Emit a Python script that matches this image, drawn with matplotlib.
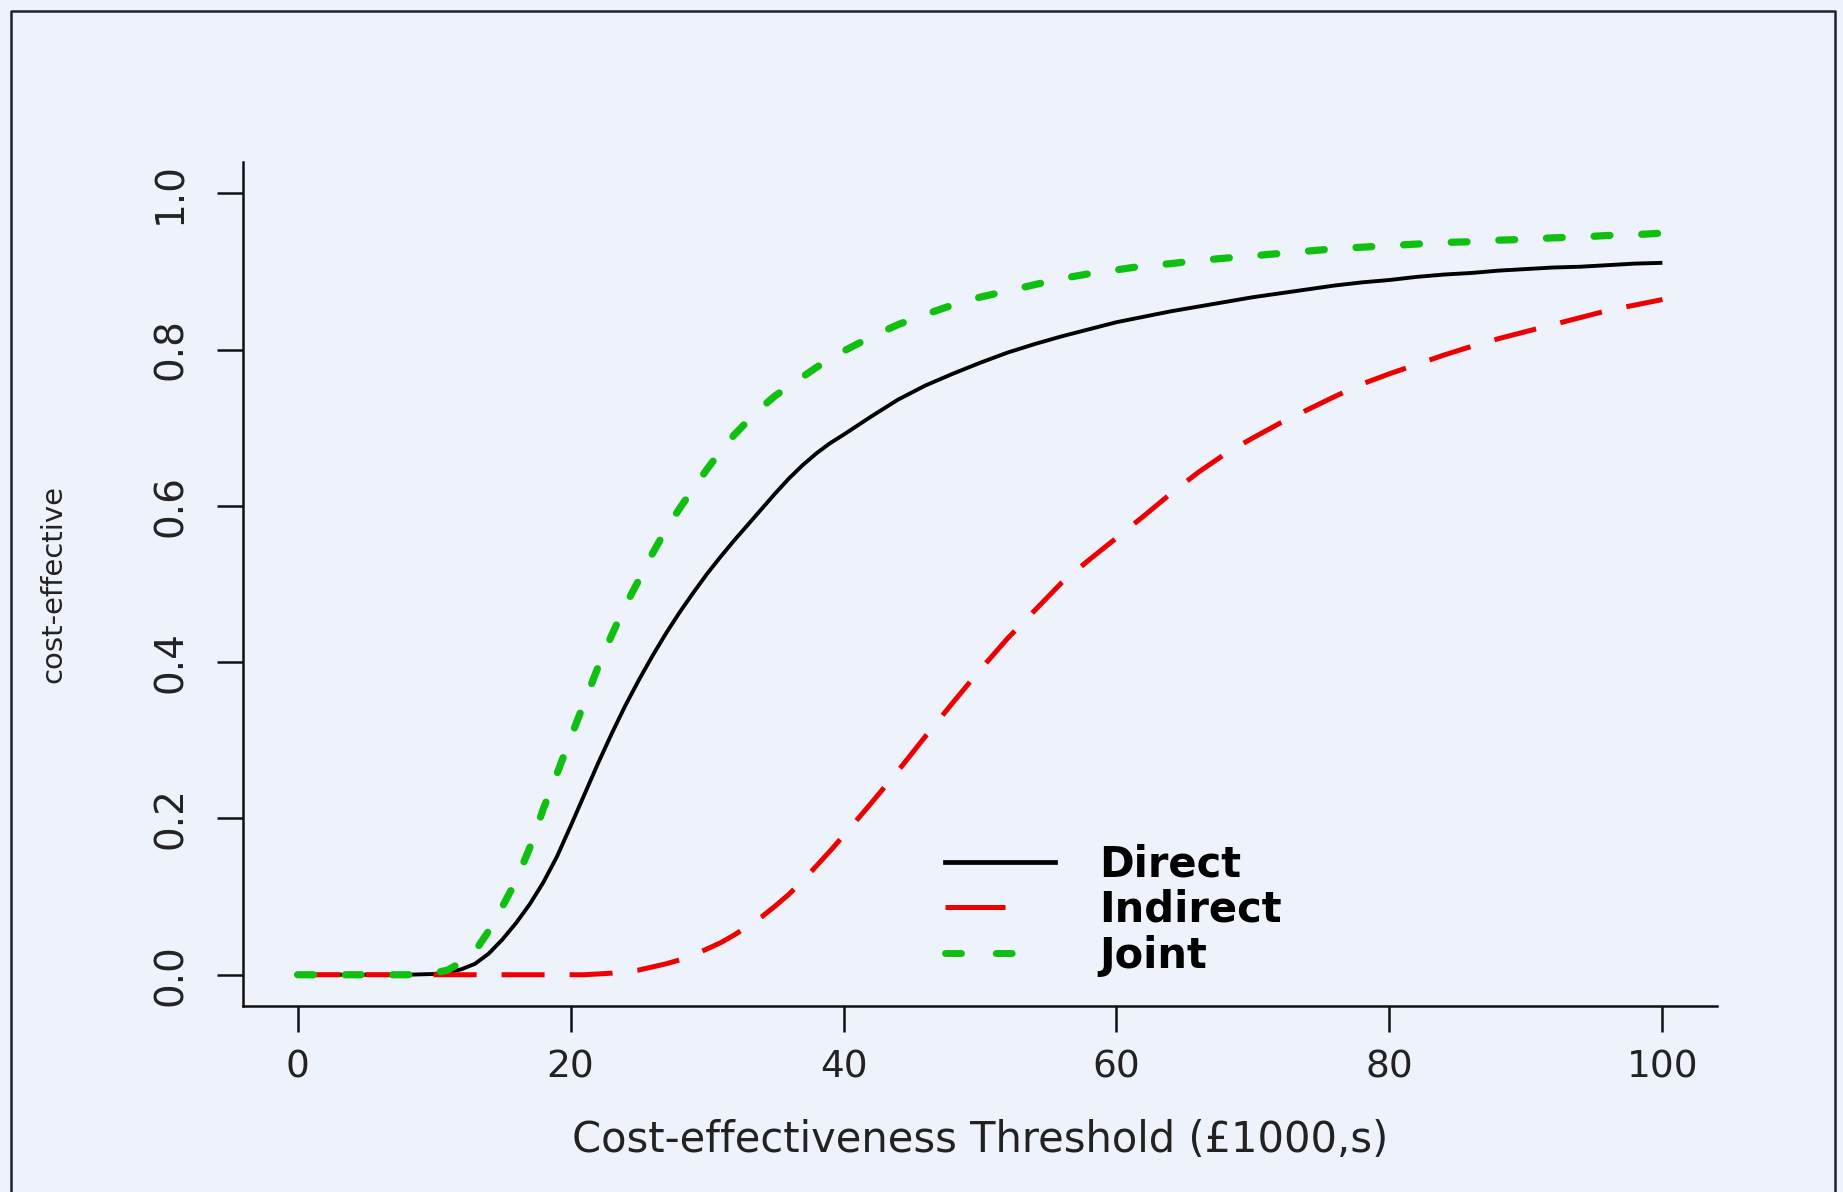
import matplotlib
matplotlib.use("Agg")
import matplotlib.pyplot as plt
from matplotlib.lines import Line2D

# ---- data ----
threshold = [0, 4, 8,
             10, 11, 12, 13, 14, 15, 16, 17, 18, 19, 20, 21, 22, 23, 24, 25,
             26, 27, 28, 29, 30, 31, 32, 33, 34, 35, 36, 37, 38, 39, 40,
             42, 44, 46, 48, 50, 52, 54, 56, 58, 60, 62, 64, 66, 68, 70,
             72, 74, 76, 78, 80, 82, 84, 86, 88, 90, 92, 94, 96, 98, 100]
direct = [0, 0, 0,
          0.001, 0.003, 0.007, 0.014, 0.027, 0.045, 0.066, 0.090, 0.118, 0.151,
          0.190, 0.230, 0.270, 0.308, 0.344, 0.377, 0.408, 0.437, 0.464, 0.489,
          0.513, 0.535, 0.556, 0.576, 0.596, 0.616, 0.635, 0.652, 0.667, 0.680,
          0.691,
          0.714, 0.736, 0.754, 0.769, 0.783, 0.796, 0.807, 0.817, 0.826, 0.835,
          0.842, 0.849, 0.855, 0.861, 0.867, 0.872, 0.877, 0.882, 0.886, 0.889,
          0.893, 0.896, 0.898, 0.901, 0.903, 0.905, 0.906, 0.908, 0.910, 0.911]
indirect = [0, 0, 0,
            0, 0, 0, 0, 0, 0, 0, 0, 0, 0, 0, 0, 0.001, 0.002, 0.004, 0.006,
            0.010, 0.014, 0.019, 0.025, 0.033, 0.041, 0.051, 0.062, 0.074, 0.088,
            0.103, 0.120, 0.139, 0.158, 0.178,
            0.219, 0.261, 0.305, 0.348, 0.390, 0.430, 0.466, 0.502, 0.531, 0.559,
            0.587, 0.616, 0.643, 0.667, 0.687, 0.706, 0.723, 0.740, 0.756, 0.769,
            0.781, 0.793, 0.804, 0.814, 0.823, 0.832, 0.841, 0.850, 0.857, 0.864]
joint = [0, 0, 0,
         0.002, 0.006, 0.016, 0.030, 0.056, 0.087, 0.120, 0.162, 0.212, 0.257,
         0.303, 0.348, 0.393, 0.434, 0.472, 0.505, 0.539, 0.570, 0.597, 0.622,
         0.647, 0.670, 0.691, 0.709, 0.726, 0.741, 0.753, 0.765, 0.777, 0.788,
         0.798,
         0.816, 0.832, 0.845, 0.857, 0.867, 0.875, 0.883, 0.891, 0.897, 0.902,
         0.907, 0.910, 0.914, 0.917, 0.920, 0.923, 0.926, 0.929, 0.931, 0.933,
         0.935, 0.937, 0.938, 0.940, 0.941, 0.943, 0.944, 0.946, 0.947, 0.949]
series_names = ["Direct", "Indirect", "Joint"]
x_ticks = [0, 20, 40, 60, 80, 100]
y_ticks = [0.0, 0.2, 0.4, 0.6, 0.8, 1.0]
y_tick_labels = ["0.0", "0.2", "0.4", "0.6", "0.8", "1.0"]
x_label = "Cost-effectiveness Threshold (\u00a31000,s)"
y_label = "cost-effective"

# ---- style ----
BG = "#eef2fb"
RED = "#ee0000"
GREEN = "#10c010"
W, H = 1843, 1192
DPI = 100

plt.rcParams["font.family"] = ["DejaVu Sans"]

fig = plt.figure(figsize=(W / DPI, H / DPI), dpi=DPI, facecolor=BG)
ax = fig.add_axes([243 / W, 1 - 1006 / H, (1717 - 243) / W, (1006 - 162) / H])
ax.set_facecolor(BG)

ax.plot(threshold, direct, color="black", lw=2.8, solid_capstyle="butt",
        solid_joinstyle="round", label=series_names[0])
ax.plot(threshold, indirect, color=RED, lw=3.6, dashes=(8.6, 5.0),
        label=series_names[1])
ax.plot(threshold, joint, color=GREEN, lw=5.2, dashes=(2.2, 4.4),
        dash_capstyle="round", label=series_names[2])

ax.set_xlim(-4, 104)
ax.set_ylim(-0.04, 1.04)
for s in ["top", "right"]:
    ax.spines[s].set_visible(False)
for s in ["left", "bottom"]:
    ax.spines[s].set_linewidth(1.8)
    ax.spines[s].set_color("#111111")

ax.set_xticks(x_ticks)
ax.set_xticklabels([str(v) for v in x_ticks])
ax.set_yticks(y_ticks)
ax.set_yticklabels(y_tick_labels)
ax.tick_params(axis="both", direction="out", length=18.5, width=1.8,
               color="#111111", labelcolor="#222222")
ax.tick_params(axis="x", labelsize=27, pad=13)
ax.tick_params(axis="y", labelsize=28, pad=20)
for lbl in ax.get_yticklabels():
    lbl.set_rotation(90)
    lbl.set_va("center")

fig.text(53 / W, 1 - 584 / H, y_label, rotation=90, ha="center", va="center",
         fontsize=21, color="#222222")
fig.text(980 / W, 1 - 1140 / H, x_label, ha="center", va="center",
         fontsize=30, color="#222222")

handles = [
    Line2D([], [], color="black", lw=3.4),
    Line2D([], [], color=RED, lw=3.6, dashes=(12, 30)),
    Line2D([], [], color=GREEN, lw=5.0, dashes=(2.3, 5.0, 2.3, 30),
           dash_capstyle="round"),
]
leg = ax.legend(handles, series_names, loc="center left",
                bbox_to_anchor=((945 - 243) / 1474, (1006 - 910) / 844),
                frameon=False, borderpad=0, borderaxespad=0,
                handlelength=2.65, handletextpad=1.05, labelspacing=0.09,
                prop={"weight": "bold", "size": 30})

# outer border (top, left, right)
border = Line2D([11 / W, 11 / W, 1835 / W, 1835 / W],
                [0, 1 - 11 / H, 1 - 11 / H, 0],
                transform=fig.transFigure, color="#222222", lw=1.8)
fig.add_artist(border)

fig.savefig("out.png", dpi=DPI, facecolor=BG)
